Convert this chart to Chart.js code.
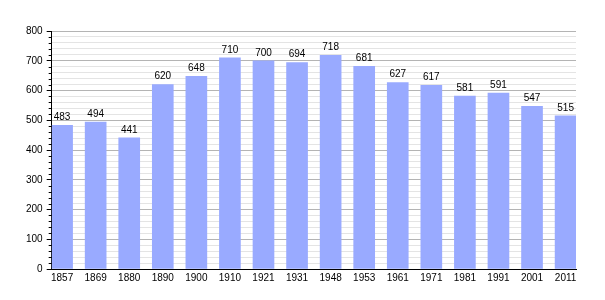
<!DOCTYPE html>
<html>
<head>
<meta charset="utf-8">
<script src="https://cdn.jsdelivr.net/npm/chart.js@4.4.1/dist/chart.umd.min.js"></script>
<style>
html,body{margin:0;padding:0;background:#fff;}
#c{display:block;}
</style>
</head>
<body>
<canvas id="c" width="605" height="300"></canvas>
<script>
const years = ['1857','1869','1880','1890','1900','1910','1921','1931','1948','1953','1961','1971','1981','1991','2001','2011'];
const population = [483,494,441,620,648,710,700,694,718,681,627,617,581,591,547,515];
const yTicks = [0,100,200,300,400,500,600,700,800];

const FONT = 'Liberation Sans, Arial, sans-serif';

const valueLabels = {
  id: 'valueLabels',
  afterDatasetsDraw(chart) {
    const ctx = chart.ctx;
    const meta = chart.getDatasetMeta(0);
    ctx.save();
    ctx.font = '10px ' + FONT;
    ctx.fillStyle = '#000';
    ctx.textAlign = 'center';
    ctx.textBaseline = 'bottom';
    meta.data.forEach((bar, i) => {
      ctx.fillText(String(population[i]), bar.x, bar.y - 3);
    });
    ctx.restore();
  }
};

const minorTicks = {
  id: 'minorTicks',
  afterDraw(chart) {
    const ys = chart.scales.y;
    const ctx = chart.ctx;
    ctx.save();
    ctx.strokeStyle = '#000';
    ctx.lineWidth = 1;
    for (let v = 0; v <= 800; v += 20) {
      if (v % 100 === 0) continue;
      const py = Math.round(ys.getPixelForValue(v)) + 0.5;
      ctx.beginPath();
      ctx.moveTo(ys.right - 3, py);
      ctx.lineTo(ys.right, py);
      ctx.stroke();
    }
    ctx.restore();
  }
};

new Chart(document.getElementById('c'), {
  type: 'bar',
  data: {
    datasets: [{
      data: population.map((v, i) => ({x: i, y: v})),
      backgroundColor: '#99aaff',
      borderWidth: 0,
      barThickness: 21
    }]
  },
  options: {
    responsive: false,
    animation: false,
    devicePixelRatio: 1,
    layout: {padding: {left: 22, right: 29, top: 31, bottom: 13}},
    plugins: {legend: {display: false}, tooltip: {enabled: false}},
    scales: {
      x: {
        type: 'linear',
        offset: false,
        min: -0.31,
        max: 15.31,
        grid: {display: false, offset: false, drawTicks: false},
        border: {display: true, color: '#000', width: 1},
        ticks: {
          stepSize: 1,
          includeBounds: false,
          autoSkip: false,
          maxRotation: 0,
          padding: 3,
          color: '#000',
          font: {family: FONT, size: 10},
          callback: (v) => Number.isInteger(v) && years[v] !== undefined ? years[v] : ''
        }
      },
      y: {
        min: 0,
        max: 800,
        grid: {
          drawTicks: true,
          tickLength: 5,
          color: (c) => (c.tick && c.tick.value % 100 === 0) ? '#b4b4b4' : '#e4e4e4',
          tickColor: (c) => (c.tick && c.tick.value % 100 === 0) ? '#000' : 'rgba(0,0,0,0)'
        },
        border: {display: true, color: '#000', width: 1},
        ticks: {
          stepSize: 20,
          autoSkip: false,
          padding: 4,
          color: '#000',
          font: {family: FONT, size: 10},
          callback: (v) => yTicks.includes(v) ? String(v) : ''
        }
      }
    }
  },
  plugins: [valueLabels, minorTicks]
});
</script>
</body>
</html>
